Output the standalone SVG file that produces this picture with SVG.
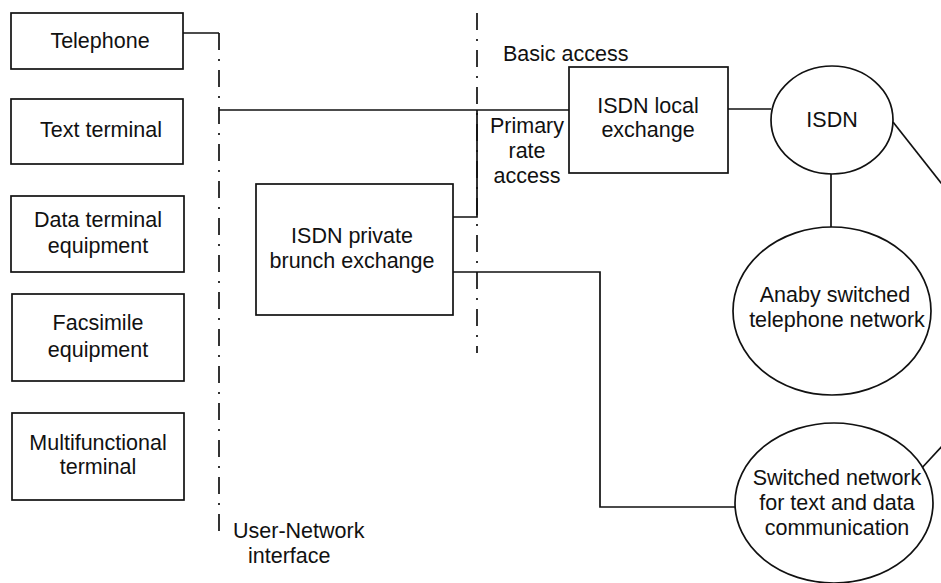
<svg xmlns="http://www.w3.org/2000/svg" width="941" height="583" viewBox="0 0 941 583">
  <style>
    .box { fill: #fff; stroke: #111; stroke-width: 1.7; }
    .ell { fill: #fff; stroke: #111; stroke-width: 1.7; }
    .wire { fill: none; stroke: #111; stroke-width: 1.7; }
    .iface { fill: none; stroke: #111; stroke-width: 1.7; stroke-dasharray: 17 9 2 9; }
    text { font-family: "Liberation Sans", Arial, sans-serif; font-size: 21.5px; fill: #111; }
    .c { text-anchor: middle; }
  </style>
  <rect width="941" height="583" fill="#fff"/>

  <!-- interface boundaries -->
  <g id="interfaces">
    <line class="iface" x1="219" y1="33" x2="219" y2="532"/>
    <line class="iface" x1="477" y1="13" x2="477" y2="353"/>
  </g>

  <!-- connectors -->
  <g id="connectors">
    <polyline class="wire" points="183,33 219,33"/>
    <polyline class="wire" points="219,110 569,110"/>
    <polyline class="wire" points="477,110 477,217 453,217"/>
    <polyline class="wire" points="453,272 600,272 600,507 735,507"/>
    <line class="wire" x1="728" y1="109" x2="771" y2="109"/>
    <line class="wire" x1="831" y1="174" x2="831" y2="227"/>
    <line class="wire" x1="893" y1="122" x2="945" y2="188"/>
    <line class="wire" x1="920" y1="470" x2="945" y2="443"/>
  </g>

  <!-- terminal equipment -->
  <g id="telephone">
    <rect class="box" x="11" y="13" width="172" height="56"/>
    <text class="c" x="100" y="48">Telephone</text>
  </g>
  <g id="text-terminal">
    <rect class="box" x="11" y="99" width="172" height="65"/>
    <text class="c" x="101" y="137">Text terminal</text>
  </g>
  <g id="data-terminal">
    <rect class="box" x="11" y="196" width="173" height="76"/>
    <text class="c" x="98" y="227">Data terminal</text>
    <text class="c" x="98" y="253">equipment</text>
  </g>
  <g id="facsimile">
    <rect class="box" x="12" y="294" width="172" height="87"/>
    <text class="c" x="98" y="330">Facsimile</text>
    <text class="c" x="98" y="357">equipment</text>
  </g>
  <g id="multifunctional">
    <rect class="box" x="12" y="413" width="172" height="87"/>
    <text class="c" x="98" y="450">Multifunctional</text>
    <text class="c" x="98" y="474">terminal</text>
  </g>

  <!-- exchanges -->
  <g id="private-exchange">
    <rect class="box" x="256" y="184" width="197" height="131"/>
    <text class="c" x="352" y="243">ISDN private</text>
    <text class="c" x="352" y="268">brunch exchange</text>
  </g>
  <g id="local-exchange">
    <rect class="box" x="569" y="67" width="159" height="106"/>
    <text class="c" x="648" y="113">ISDN local</text>
    <text class="c" x="648" y="137">exchange</text>
  </g>

  <!-- networks -->
  <g id="isdn">
    <ellipse class="ell" cx="832" cy="120" rx="61" ry="54"/>
    <text class="c" x="832" y="127">ISDN</text>
  </g>
  <g id="telephone-network">
    <ellipse class="ell" cx="832" cy="311" rx="99" ry="84"/>
    <text class="c" x="835" y="302">Anaby switched</text>
    <text class="c" x="837" y="327">telephone network</text>
  </g>
  <g id="data-network">
    <ellipse class="ell" cx="834" cy="503" rx="99" ry="80"/>
    <text class="c" x="837" y="485">Switched network</text>
    <text class="c" x="837" y="510">for text and data</text>
    <text class="c" x="837" y="535">communication</text>
  </g>

  <!-- labels -->
  <g id="labels">
    <text x="503" y="61">Basic access</text>
    <text class="c" x="527" y="133">Primary</text>
    <text class="c" x="527" y="158">rate</text>
    <text class="c" x="527" y="183">access</text>
    <text x="233" y="538">User-Network</text>
    <text x="248" y="563">interface</text>
  </g>
</svg>
